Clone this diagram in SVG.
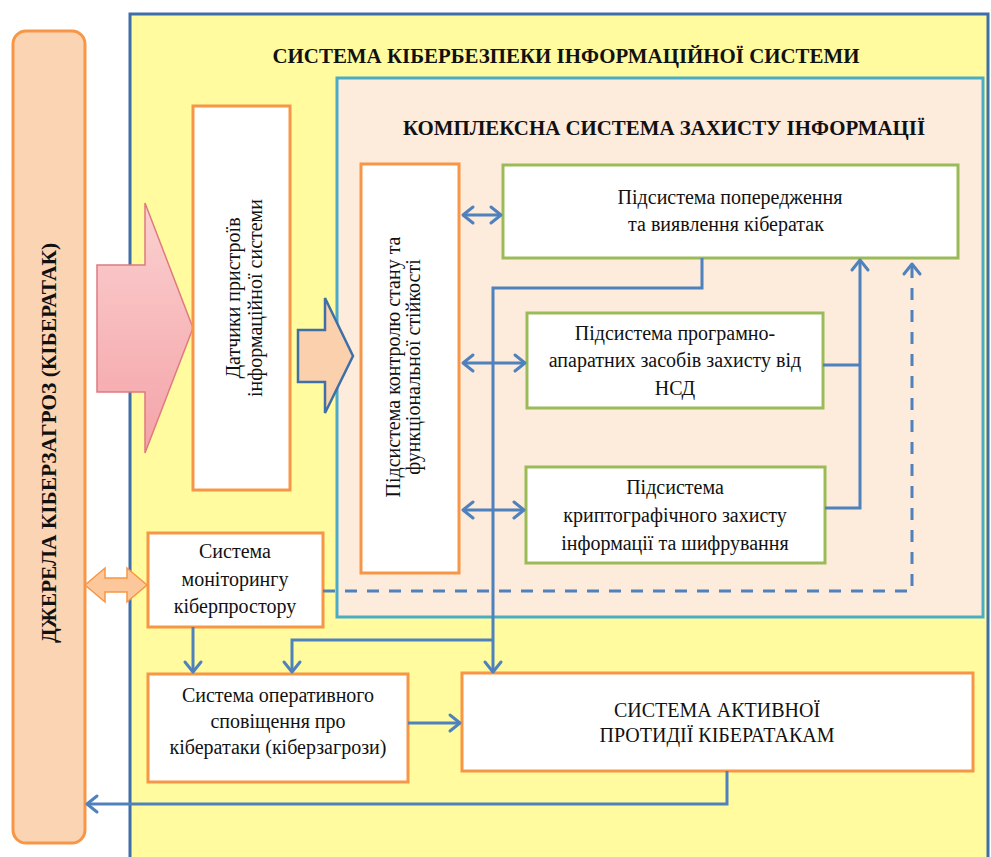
<svg xmlns="http://www.w3.org/2000/svg" width="991" height="857" viewBox="0 0 991 857">
<style>
.t{font-family:"Liberation Serif","Times New Roman",serif;font-size:20px;fill:#111;text-anchor:middle}
.b{font-weight:bold}
.ob{fill:#fff;stroke:#F79646;stroke-width:3}
.gb{fill:#fff;stroke:#9BBB59;stroke-width:3}
.c{fill:none;stroke:#4F81BD;stroke-width:3}
</style>
<defs>
<marker id="ah" markerUnits="userSpaceOnUse" markerWidth="24" markerHeight="24" viewBox="-14 -12 16 24" refX="0" refY="0" orient="auto-start-reverse" overflow="visible">
<path d="M-10,-8 L0,0 L-10,8" fill="none" stroke="#4F81BD" stroke-width="3" stroke-linecap="round" stroke-linejoin="round"/>
</marker>
<linearGradient id="pk" x1="0" y1="0" x2="0" y2="1">
<stop offset="0" stop-color="#FBD0D0"/>
<stop offset="1" stop-color="#F4A3A8"/>
</linearGradient>
</defs>
<rect x="0" y="0" width="991" height="857" fill="#fff"/>

<g id="cybersecurity-system">
<rect x="130" y="14" width="858" height="860" fill="#FFFB9E" stroke="#3F6FA8" stroke-width="3"/>
<text class="t b" x="566" y="63" font-size="23" textLength="587" lengthAdjust="spacingAndGlyphs">СИСТЕМА КІБЕРБЕЗПЕКИ ІНФОРМАЦІЙНОЇ СИСТЕМИ</text>
</g>

<g id="complex-protection">
<rect x="337" y="78" width="646" height="539" fill="#FDEBDB" stroke="#4BACC6" stroke-width="3"/>
<text class="t b" x="664" y="135" font-size="22" textLength="522" lengthAdjust="spacingAndGlyphs">КОМПЛЕКСНА СИСТЕМА ЗАХИСТУ ІНФОРМАЦІЇ</text>
</g>

<g id="sources">
<rect x="13" y="31" width="72" height="812" rx="13" fill="#FBD4B4" stroke="#F79646" stroke-width="3"/>
<text class="t b" transform="translate(50,443) rotate(-90)" x="0" y="6" font-size="23" textLength="400" lengthAdjust="spacingAndGlyphs">ДЖЕРЕЛА КІБЕРЗАГРОЗ (КІБЕРАТАК)</text>
</g>

<g id="threat-arrow">
<polygon points="97,265 145,265 145,203 193,328 145,453 145,392 97,392" fill="url(#pk)" stroke="#E07A80" stroke-width="1.5"/>
</g>

<g id="sensors">
<rect class="ob" x="193" y="106" width="97" height="384"/>
<g transform="translate(241,298) rotate(-90)">
<text class="t" x="0" y="-1">Датчики пристроїв</text>
<text class="t" x="0" y="21">інформаційної системи</text>
</g>
</g>

<g id="sensor-arrow">
<polygon points="298,330 325,330 325,298 353,356 325,413 325,382 298,382" fill="#FBD0AC" stroke="#3F6FA8" stroke-width="2.5"/>
</g>

<g id="control">
<rect class="ob" x="361" y="164" width="98" height="409"/>
<g transform="translate(410,367) rotate(-90)">
<text class="t" x="0" y="-10">Підсистема контролю стану та</text>
<text class="t" x="0" y="10">функціональної стійкості</text>
</g>
</g>

<g id="prevention">
<rect class="gb" x="503" y="165" width="455" height="93"/>
<text class="t" x="730" y="204">Підсистема попередження</text>
<text class="t" x="726" y="231">та виявлення кібератак</text>
</g>

<g id="nsd">
<rect class="gb" x="527" y="313" width="296" height="95"/>
<text class="t" x="675" y="340">Підсистема програмно-</text>
<text class="t" x="675" y="367">апаратних засобів захисту від</text>
<text class="t" x="675" y="395">НСД</text>
</g>

<g id="crypto">
<rect class="gb" x="526" y="467" width="299" height="96"/>
<text class="t" x="675" y="494">Підсистема</text>
<text class="t" x="675" y="522">криптографічного захисту</text>
<text class="t" x="675" y="550">інформації та шифрування</text>
</g>

<g id="monitoring">
<rect class="ob" x="148" y="533" width="175" height="94"/>
<text class="t" x="235" y="558">Система</text>
<text class="t" x="235" y="586">моніторингу</text>
<text class="t" x="235" y="613">кіберпростору</text>
</g>

<g id="monitoring-arrow">
<polygon points="85,585 105,568 105,578 127,578 127,568 147,585 127,602 127,592 105,592 105,602" fill="#FBC79B" stroke="#F79646" stroke-width="1.5"/>
</g>

<g id="alert">
<rect class="ob" x="148" y="674" width="260" height="108"/>
<text class="t" x="278" y="702">Система оперативного</text>
<text class="t" x="278" y="728">сповіщення про</text>
<text class="t" x="278" y="754">кібератаки (кіберзагрози)</text>
</g>

<g id="active">
<rect class="ob" x="462" y="673" width="511" height="98"/>
<text class="t" x="717" y="717">СИСТЕМА АКТИВНОЇ</text>
<text class="t" x="717" y="742">ПРОТИДІЇ КІБЕРАТАКАМ</text>
</g>

<g id="connectors">
<line class="c" x1="463" y1="215" x2="501" y2="215" marker-start="url(#ah)" marker-end="url(#ah)"/>
<line class="c" x1="463" y1="363" x2="525" y2="363" marker-start="url(#ah)" marker-end="url(#ah)"/>
<line class="c" x1="463" y1="510" x2="524" y2="510" marker-start="url(#ah)" marker-end="url(#ah)"/>
<polyline class="c" points="702,258 702,288 493,288 493,672" marker-end="url(#ah)"/>
<polyline class="c" points="493,640 292,640 292,672" marker-end="url(#ah)"/>
<line class="c" x1="193" y1="627" x2="193" y2="672" marker-end="url(#ah)"/>
<line class="c" x1="408" y1="723" x2="460" y2="723" marker-end="url(#ah)"/>
<polyline class="c" points="823,365 860,365"/>
<polyline class="c" points="825,508 860,508 860,260" marker-end="url(#ah)"/>
<polyline class="c" points="323,591 912,591 912,264" stroke-dasharray="12 10" marker-end="url(#ah)"/>
<polyline class="c" points="727,771 727,804 87,804" marker-end="url(#ah)"/>
</g>
</svg>
